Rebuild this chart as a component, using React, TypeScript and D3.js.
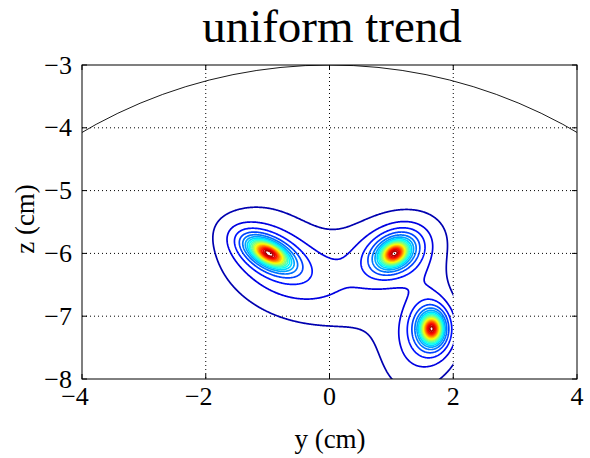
import React, { useMemo } from "react";
import * as d3 from "d3";

// ---------- chart text & axes ----------
const title = "uniform trend";
const xLabel = "y (cm)";
const yLabel = "z (cm)";
const xTicks = [-4, -2, 0, 2, 4];
const yTicks = [-3, -4, -5, -6, -7, -8];
const xDomain = [-4, 4];
const yDomain = [-8, -3];
const xGrid = [-2, 0, 2];
const yGrid = [-4, -5, -6, -7];

// ---------- source distribution (three peaks) ----------
const srcY = [-0.98, 1.05, 1.65];
const srcZ = [-6.0, -6.0, -7.2];
const srcAngle = [-28, 30, 90];
// sharp spike
const spikeAmp = [0.62, 0.62, 0.62];
const spikeMajor = [0.19, 0.14, 0.13];
const spikeMinor = [0.09, 0.1, 0.1];
// middle core
const midAmp = [0.28, 0.28, 0.28];
const midMajor = [0.36, 0.3, 0.26];
const midMinor = [0.18, 0.21, 0.21];
// broad halo components
const haloY = [-0.9, 0.15, 1.0, 1.45, 1.55];
const haloZ = [-6.05, -6.75, -5.92, -7.55, -6.6];
const haloAmp = [0.1, 0.045, 0.1, 0.08, 0.04];
const haloMajor = [0.75, 1.2, 0.7, 0.6, 0.45];
const haloMinor = [0.55, 0.5, 0.46, 0.45, 0.3];
const haloAngle = [-35, -20, 18, 70, 95];

const nLevels = 20;
// data grid extent (cm) – contour data ends at y = 2
const gridY = [-4.2, 2.3];
const gridZ = [-8.3, -2.9];
const gridClipY = 2;

// head boundary circle
const headCenter = [0, -11];
const headRadius = 8;

function jet(t: number) {
  const c = (v: number) => Math.max(0, Math.min(1, v));
  const r = c(Math.min(4 * t - 1.5, -4 * t + 4.5));
  const g = c(Math.min(4 * t - 0.5, -4 * t + 3.5));
  const b = c(Math.min(4 * t + 0.5, -4 * t + 2.5));
  return d3.rgb(r * 255, g * 255, b * 255).formatHex();
}

function gauss(dy: number, dz: number, amp: number, a: number, b: number, angDeg: number) {
  const t = (angDeg * Math.PI) / 180;
  const u = dy * Math.cos(t) + dz * Math.sin(t);
  const v = -dy * Math.sin(t) + dz * Math.cos(t);
  return amp * Math.exp(-0.5 * ((u / a) ** 2 + (v / b) ** 2));
}

const W = 590;
const H = 458;
const M = { l: 82, r: 577, t: 65, b: 379 };
const FONT = "'Liberation Serif', 'Times New Roman', serif";

export default function App() {
  const x = d3.scaleLinear().domain(xDomain).range([M.l, M.r]);
  const y = d3.scaleLinear().domain(yDomain).range([M.b, M.t]);

  const contours = useMemo(() => {
    const step = 0.01;
    const nx = Math.round((gridY[1] - gridY[0]) / step) + 1;
    const nz = Math.round((gridZ[1] - gridZ[0]) / step) + 1;
    const values = new Float64Array(nx * nz);
    let vmax = -Infinity;
    let vmin = Infinity;
    for (let j = 0; j < nz; j++) {
      const zz = gridZ[0] + j * step;
      for (let i = 0; i < nx; i++) {
        const yy = gridY[0] + i * step;
        let s = 0;
        for (let k = 0; k < srcY.length; k++) {
          const dy = yy - srcY[k];
          const dz = zz - srcZ[k];
          s += gauss(dy, dz, spikeAmp[k], spikeMajor[k], spikeMinor[k], srcAngle[k]);
          s += gauss(dy, dz, midAmp[k], midMajor[k], midMinor[k], srcAngle[k]);
        }
        for (let k = 0; k < haloY.length; k++) {
          s += gauss(yy - haloY[k], zz - haloZ[k], haloAmp[k], haloMajor[k], haloMinor[k], haloAngle[k]);
        }
        values[j * nx + i] = s;
        if (yy <= gridClipY && zz >= -8) {
          if (s > vmax) vmax = s;
          if (s < vmin) vmin = s;
        }
      }
    }
    const levels = d3.range(1, nLevels + 1).map((k) => vmin + ((vmax - vmin) * k) / (nLevels + 1));
    const gen = d3.contours().size([nx, nz]).thresholds(levels);
    const proj = d3.geoTransform({
      point(px: number, py: number) {
        (this as any).stream.point(x(gridY[0] + (px - 0.5) * step), y(gridZ[0] + (py - 0.5) * step));
      },
    });
    const path = d3.geoPath(proj);
    return gen(Array.from(values)).map((c) => ({
      d: path(c as any) || "",
      color: jet((c.value - vmin) / (vmax - vmin)),
    }));
  }, []);

  const arcRx = x(headRadius) - x(0);
  const arcRy = y(0) - y(headRadius);

  return (
    <svg width={W} height={H} style={{ position: "absolute", left: 0, top: 0, background: "#fff" }}>
      <defs>
        <clipPath id="plotClip">
          <rect x={M.l} y={M.t} width={M.r - M.l} height={M.b - M.t} />
        </clipPath>
        <clipPath id="dataClip">
          <rect x={M.l} y={M.t} width={x(gridClipY) - M.l} height={M.b - M.t} />
        </clipPath>
      </defs>
      <rect x={0} y={0} width={W} height={H} fill="#fff" />
      {/* grid */}
      <g stroke="#000" strokeWidth={1} strokeDasharray="1 3">
        {xGrid.map((v) => (
          <line key={"gx" + v} x1={x(v)} x2={x(v)} y1={M.t} y2={M.b} />
        ))}
        {yGrid.map((v) => (
          <line key={"gy" + v} x1={M.l} x2={M.r} y1={y(v)} y2={y(v)} />
        ))}
      </g>
      {/* contours */}
      <g clipPath="url(#dataClip)" fill="none" strokeWidth={1.7} strokeLinejoin="round">
        {contours.map((c, i) => (
          <path key={i} d={c.d} stroke={c.color} />
        ))}
      </g>
      {/* head boundary */}
      <g clipPath="url(#plotClip)">
        <ellipse cx={x(headCenter[0])} cy={y(headCenter[1])} rx={arcRx} ry={arcRy} fill="none" stroke="#000" strokeWidth={0.9} />
      </g>
      {/* frame & ticks */}
      <rect x={M.l} y={M.t} width={M.r - M.l} height={M.b - M.t} fill="none" stroke="#000" strokeWidth={1} />
      <g stroke="#000" strokeWidth={1}>
        {xTicks.map((v) => (
          <g key={"tx" + v}>
            <line x1={x(v)} x2={x(v)} y1={M.b} y2={M.b - 5} />
            <line x1={x(v)} x2={x(v)} y1={M.t} y2={M.t + 5} />
          </g>
        ))}
        {yTicks.map((v) => (
          <g key={"ty" + v}>
            <line x1={M.l} x2={M.l + 5} y1={y(v)} y2={y(v)} />
            <line x1={M.r} x2={M.r - 5} y1={y(v)} y2={y(v)} />
          </g>
        ))}
      </g>
      {/* tick labels */}
      <g fontFamily={FONT} fontSize={26} fill="#000">
        {xTicks.map((v) => (
          <text key={"lx" + v} x={x(v) - (v < 0 ? 7 : 0)} y={405} textAnchor="middle">
            {v < 0 ? "\u2212" + Math.abs(v) : String(v)}
          </text>
        ))}
        {yTicks.map((v) => (
          <text key={"ly" + v} x={72} y={y(v)} dy="0.33em" textAnchor="end">
            {"\u2212" + Math.abs(v)}
          </text>
        ))}
      </g>
      <text x={332} y={42} textAnchor="middle" fontFamily={FONT} fontSize={47} fill="#000">
        {title}
      </text>
      <text x={330} y={448} textAnchor="middle" fontFamily={FONT} fontSize={27} fill="#000">
        {xLabel}
      </text>
      <text transform="translate(34,219) rotate(-90)" textAnchor="middle" fontFamily={FONT} fontSize={27} fill="#000">
        {yLabel}
      </text>
    </svg>
  );
}
